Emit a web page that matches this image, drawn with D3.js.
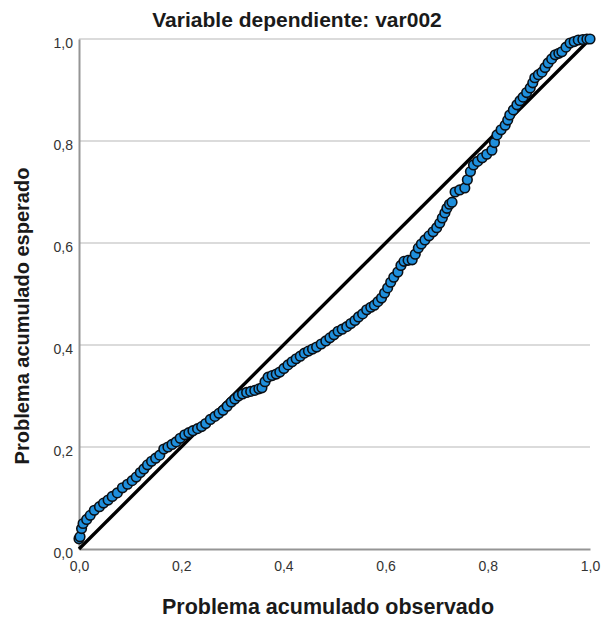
<!DOCTYPE html>
<html>
<head>
<meta charset="utf-8">
<script src="https://cdn.jsdelivr.net/npm/d3@7"></script>
<style>
  body { margin: 0; background: #fff; }
  svg text { font-family: "Liberation Sans", Arial, sans-serif; }
</style>
</head>
<body>
<div id="chart"></div>
<script>
// observed cumulative probability (x) and expected cumulative probability (y)
var observed = [
  0.000, 0.002, 0.005, 0.008, 0.015, 0.022, 0.030, 0.040, 0.048, 0.057,
  0.065, 0.075, 0.085, 0.095, 0.104, 0.112, 0.120, 0.127, 0.134, 0.142,
  0.150, 0.158, 0.166, 0.174, 0.182, 0.190, 0.198, 0.207, 0.215, 0.223,
  0.232, 0.240, 0.248, 0.257, 0.266, 0.274, 0.282, 0.290, 0.298, 0.305,
  0.312, 0.320, 0.328, 0.336, 0.344, 0.352, 0.358, 0.364, 0.370, 0.378,
  0.386, 0.393, 0.401, 0.409, 0.417, 0.425, 0.433, 0.441, 0.449, 0.457,
  0.465, 0.474, 0.483, 0.491, 0.499, 0.507, 0.515, 0.524, 0.532, 0.540,
  0.547, 0.555, 0.563, 0.571, 0.578, 0.585, 0.592, 0.598, 0.604, 0.610,
  0.616, 0.624, 0.630, 0.636, 0.644, 0.652, 0.658, 0.664, 0.670, 0.677,
  0.685, 0.693, 0.700, 0.706, 0.711, 0.716, 0.720, 0.725, 0.730, 0.736,
  0.745, 0.755, 0.760, 0.766, 0.772, 0.780, 0.789, 0.798, 0.808, 0.813,
  0.818, 0.826, 0.834, 0.839, 0.843, 0.850, 0.857, 0.863, 0.869, 0.876,
  0.883, 0.888, 0.892, 0.899, 0.906, 0.912, 0.918, 0.925, 0.932, 0.939,
  0.945, 0.953, 0.961, 0.969, 0.977, 0.986, 0.994, 1.000
];
var expected = [
  0.020, 0.024, 0.040, 0.050, 0.058, 0.066, 0.076, 0.083, 0.090, 0.096,
  0.103, 0.110, 0.120, 0.127, 0.134, 0.141, 0.150, 0.157, 0.165, 0.172,
  0.178, 0.184, 0.196, 0.200, 0.205, 0.210, 0.217, 0.224, 0.228, 0.232,
  0.236, 0.240, 0.246, 0.254, 0.260, 0.266, 0.272, 0.280, 0.288, 0.294,
  0.300, 0.304, 0.307, 0.309, 0.311, 0.314, 0.316, 0.328, 0.337, 0.340,
  0.343, 0.347, 0.354, 0.361, 0.367, 0.373, 0.378, 0.384, 0.388, 0.392,
  0.396, 0.402, 0.408, 0.414, 0.420, 0.427, 0.431, 0.436, 0.442, 0.448,
  0.455, 0.461, 0.469, 0.474, 0.478, 0.485, 0.492, 0.502, 0.512, 0.523,
  0.533, 0.543, 0.556, 0.564, 0.566, 0.567, 0.578, 0.590, 0.598, 0.606,
  0.614, 0.622, 0.630, 0.639, 0.649, 0.659, 0.668, 0.676, 0.680, 0.700,
  0.704, 0.708, 0.724, 0.740, 0.753, 0.760, 0.767, 0.774, 0.782, 0.797,
  0.812, 0.822, 0.831, 0.841, 0.851, 0.861, 0.871, 0.879, 0.886, 0.895,
  0.904, 0.914, 0.924, 0.930, 0.935, 0.944, 0.953, 0.961, 0.969, 0.972,
  0.975, 0.984, 0.992, 0.995, 0.998, 0.999, 1.000, 1.000
];
var ticks = [0, 0.2, 0.4, 0.6, 0.8, 1.0];
var tickLabels = ["0,0", "0,2", "0,4", "0,6", "0,8", "1,0"];
var refLine = [[0, 0], [1, 1]];

var W = 603, H = 618;
var mLeft = 79, mRight = 590, mTop = 39, mBottom = 549;

var svg = d3.select('#chart')
  .append('svg')
  .attr('width', W)
  .attr('height', H);

var x = d3.scaleLinear().domain([0, 1]).range([mLeft, mRight]);
var y = d3.scaleLinear().domain([0, 1]).range([mBottom, mTop]);

// horizontal gridlines
svg.selectAll('.grid')
  .data(ticks.slice(1))
  .enter().append('line')
  .attr('class', 'grid')
  .attr('x1', mLeft).attr('x2', mRight)
  .attr('y1', function(d){ return y(d); })
  .attr('y2', function(d){ return y(d); })
  .attr('stroke', '#cfcfcf')
  .attr('stroke-width', 1.3);

// axes
var xAxis = d3.axisBottom(x).tickValues(ticks)
  .tickFormat(function(d, i){ return tickLabels[i]; })
  .tickSize(0).tickPadding(12);
var yAxis = d3.axisLeft(y).tickValues(ticks)
  .tickFormat(function(d, i){ return tickLabels[i]; })
  .tickSize(0).tickPadding(6);

var gx = svg.append('g')
  .attr('transform', 'translate(0,' + mBottom + ')')
  .call(xAxis);
var gy = svg.append('g')
  .attr('transform', 'translate(' + mLeft + ',0)')
  .call(yAxis);

[gx, gy].forEach(function(g){
  g.select('.domain').attr('stroke', '#959595').attr('stroke-width', 2);
  g.selectAll('text')
    .attr('fill', '#333')
    .style('font-size', '14px');
});
gy.selectAll('text').attr('dy', '0.6em');

// reference line
svg.append('path')
  .datum(refLine)
  .attr('d', d3.line()
    .x(function(d){ return x(d[0]); })
    .y(function(d){ return y(d[1]); }))
  .attr('stroke', '#000')
  .attr('stroke-width', 3.4)
  .attr('fill', 'none');

// points
svg.selectAll('.pt')
  .data(observed)
  .enter().append('circle')
  .attr('class', 'pt')
  .attr('cx', function(d){ return x(d); })
  .attr('cy', function(d, i){ return y(expected[i]); })
  .attr('r', 4.8)
  .attr('fill', '#1f8fdc')
  .attr('stroke', '#0b0f14')
  .attr('stroke-width', 1.6);

// titles
svg.append('text')
  .attr('x', 297)
  .attr('y', 27)
  .attr('text-anchor', 'middle')
  .style('font-size', '21px')
  .style('font-weight', 'bold')
  .attr('fill', '#1a1a1a')
  .text('Variable dependiente: var002');

svg.append('text')
  .attr('x', 328)
  .attr('y', 614)
  .attr('text-anchor', 'middle')
  .style('font-size', '21.5px')
  .style('font-weight', 'bold')
  .attr('fill', '#1a1a1a')
  .text('Problema acumulado observado');

svg.append('text')
  .attr('transform', 'translate(29,316) rotate(-90)')
  .attr('text-anchor', 'middle')
  .style('font-size', '20px')
  .style('font-weight', 'bold')
  .attr('fill', '#1a1a1a')
  .text('Problema acumulado esperado');
</script>
</body>
</html>
